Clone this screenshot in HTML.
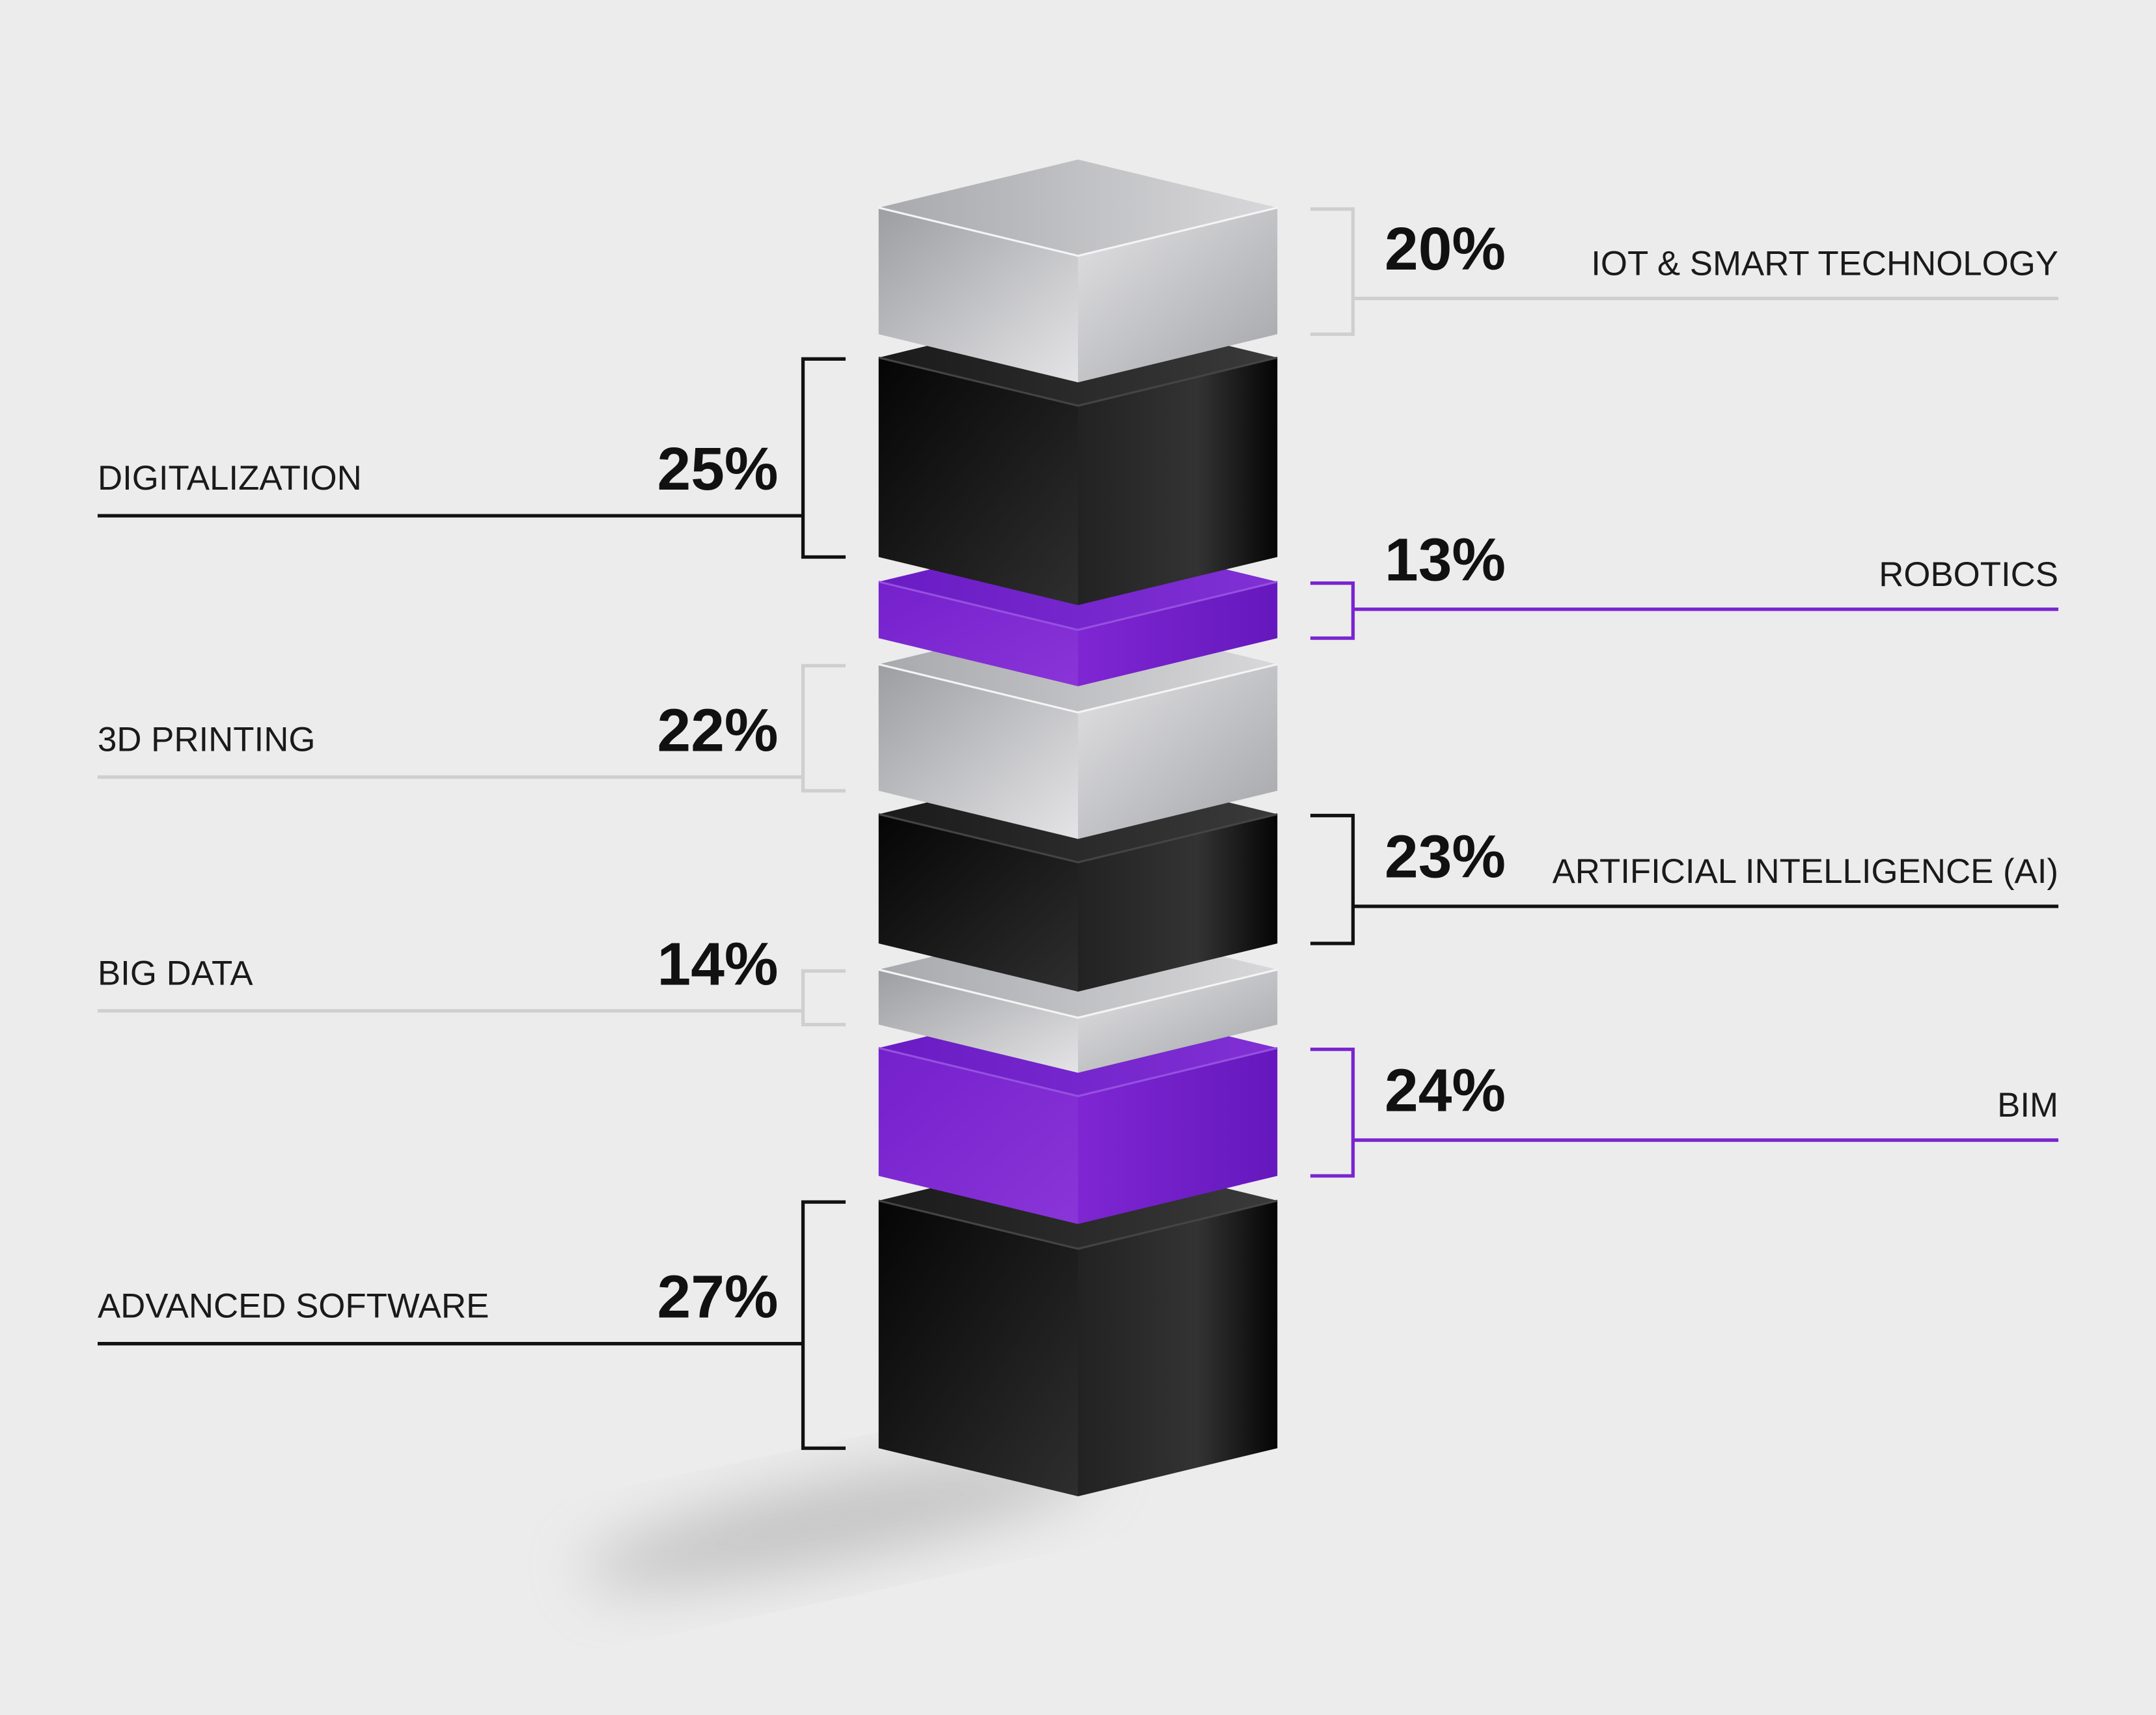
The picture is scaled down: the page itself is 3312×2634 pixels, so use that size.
<!DOCTYPE html>
<html><head><meta charset="utf-8">
<style>
html,body{margin:0;padding:0;background:#ececec;}
svg{display:block;}
text{font-family:"Liberation Sans",sans-serif;}
</style></head>
<body>
<svg id="chart" width="3312" height="2634" viewBox="0 0 1568 1247" xmlns="http://www.w3.org/2000/svg">
<defs>
<linearGradient id="gL-gray" x1="0" y1="0" x2="1" y2="1"><stop offset="0" stop-color="#9d9ea2"/><stop offset="1" stop-color="#e4e4e6"/></linearGradient>
<linearGradient id="gR-gray" x1="0" y1="0" x2="1" y2="1"><stop offset="0" stop-color="#e2e2e4"/><stop offset="1" stop-color="#a4a5a9"/></linearGradient>
<linearGradient id="gT-gray" x1="0" y1="0" x2="1" y2="0"><stop offset="0" stop-color="#a8a9ad"/><stop offset="1" stop-color="#d8d8da"/></linearGradient>
<linearGradient id="gL-black" x1="0" y1="0" x2="1" y2="1"><stop offset="0" stop-color="#050505"/><stop offset="1" stop-color="#2e2e2e"/></linearGradient>
<linearGradient id="gR-black" x1="0" y1="0" x2="1" y2="0"><stop offset="0" stop-color="#222"/><stop offset="0.6" stop-color="#333"/><stop offset="1" stop-color="#050505"/></linearGradient>
<linearGradient id="gT-black" x1="0" y1="0" x2="1" y2="0"><stop offset="0" stop-color="#1a1a1a"/><stop offset="1" stop-color="#3a3a3a"/></linearGradient>
<linearGradient id="gL-purple" x1="0" y1="0" x2="1" y2="1"><stop offset="0" stop-color="#7420cc"/><stop offset="1" stop-color="#8a35d8"/></linearGradient>
<linearGradient id="gR-purple" x1="0" y1="0" x2="1" y2="0"><stop offset="0" stop-color="#7e26d2"/><stop offset="1" stop-color="#6518bd"/></linearGradient>
<linearGradient id="gT-purple" x1="0" y1="0" x2="1" y2="0"><stop offset="0" stop-color="#6a1cc4"/><stop offset="1" stop-color="#8030d4"/></linearGradient>
<filter id="blur" x="-50%" y="-50%" width="200%" height="200%"><feGaussianBlur stdDeviation="22"/></filter>
</defs>
<ellipse cx="610" cy="1105" rx="190" ry="28" fill="#a0a0a0" opacity="0.55" filter="url(#blur)" transform="rotate(-12 610 1105)"/>
<g id="blocks"></g>
<g id="labels"></g>
</svg>
<script>
// chart data
const categories = ["IOT & SMART TECHNOLOGY","DIGITALIZATION","ROBOTICS","3D PRINTING","ARTIFICIAL INTELLIGENCE (AI)","BIG DATA","BIM","ADVANCED SOFTWARE"];
const values = [20,25,13,22,23,14,24,27];
const colors = ["gray","black","purple","gray","black","gray","purple","black"];
const sides = ["right","left","right","left","right","left","right","left"];
// layout tiers (visual block sizes in the stack)
const tierTop = [151,260,423,483,592,705,762,873];
const tierBottom = [243,405,464,575,686,745,855,1053];
const leaderY = [217,375,443,565,659,735,829,977];
const strokeCol = {gray:"#cfcfcf",black:"#111",purple:"#7a24d0"};

const NS="http://www.w3.org/2000/svg";
const L=639,R=929,C=784,D=35;
const blocks=document.getElementById('blocks');
const labels=document.getElementById('labels');
function mk(tag,attrs,parent){const e=document.createElementNS(NS,tag);for(const k in attrs)e.setAttribute(k,attrs[k]);parent.appendChild(e);return e;}

for(let i=values.length-1;i>=0;i--){
  const t=tierTop[i],b=tierBottom[i],c=colors[i];
  const g=mk('g',{},blocks);
  
  
  mk('polygon',{points:`${L},${t} ${C},${t-D} ${R},${t} ${C},${t+D}`,fill:`url(#gT-${c})`},g);
  mk('polygon',{points:`${L},${t} ${C},${t+D} ${C},${b+D} ${L},${b}`,fill:`url(#gL-${c})`},g);
  mk('polygon',{points:`${C},${t+D} ${R},${t} ${R},${b} ${C},${b+D}`,fill:`url(#gR-${c})`},g);
  mk('polyline',{points:`${L},${t} ${C},${t+D} ${R},${t}`,fill:'none',stroke:c==='gray'?'#f4f4f4':(c==='black'?'#444':'#9550e0'),'stroke-width':1.5},g);
}

for(let i=0;i<values.length;i++){
  const t=tierTop[i],b=tierBottom[i],col=strokeCol[colors[i]];
  const g=mk('g',{},labels);
  
  
  const bt=t+1,bb=b;
  const lineY=leaderY[i];
  let pt;
  if(sides[i]==='right'){
    mk('polyline',{points:`953,${bt} 984,${bt} 984,${bb} 953,${bb}`,fill:'none',stroke:col,'stroke-width':2.5},g);
    mk('line',{x1:984,y1:lineY,x2:1497,y2:lineY,stroke:col,'stroke-width':2.5},g);
    const lt=mk('text',{x:1497,y:lineY-17,'text-anchor':'end','font-size':25,fill:'#1a1a1a'},g);lt.textContent=categories[i];
    pt=mk('text',{x:1007,y:lineY-21,'font-size':44,'font-weight':'bold',fill:'#111'},g);
  }else{
    mk('polyline',{points:`615,${bt} 584,${bt} 584,${bb} 615,${bb}`,fill:'none',stroke:col,'stroke-width':2.5},g);
    mk('line',{x1:71,y1:lineY,x2:584,y2:lineY,stroke:col,'stroke-width':2.5},g);
    const lt=mk('text',{x:71,y:lineY-19,'font-size':25,fill:'#1a1a1a'},g);lt.textContent=categories[i];
    pt=mk('text',{x:566,y:lineY-19,'text-anchor':'end','font-size':44,'font-weight':'bold',fill:'#111'},g);
  }
  
  
  pt.textContent=values[i]+'%';
}
</script>
</body></html>
